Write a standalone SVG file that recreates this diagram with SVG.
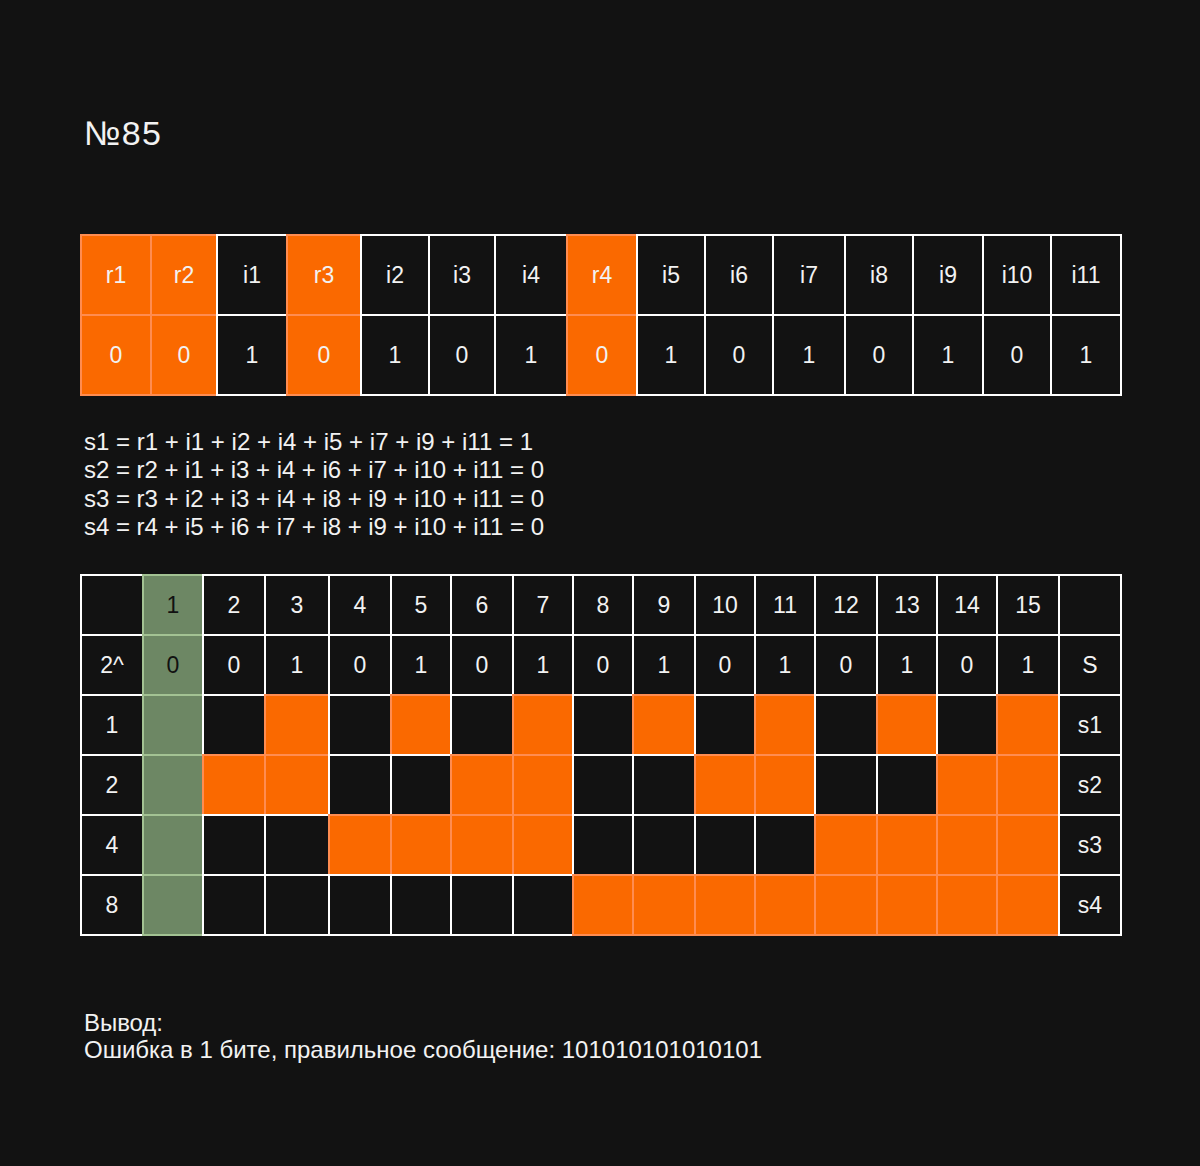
<svg xmlns="http://www.w3.org/2000/svg" width="1200" height="1166" viewBox="0 0 1200 1166">
<style>
.k{fill:#121212;stroke:#ffffff;stroke-width:2}
.o{fill:#FA6900;stroke:#FF8C50;stroke-width:2}
.g{fill:#6D8764;stroke:#A3C293;stroke-width:2}
text{font-family:"Liberation Sans",Arial,sans-serif;font-size:23px;fill:#f2f2f2}
.c{text-anchor:middle}
.d{fill:#111111}
.p{font-size:24px}
</style>
<rect width="1200" height="1166" fill="#121212"/>
<g id="title"><text x="84" y="145" style="font-size:34px" textLength="77" lengthAdjust="spacing">№85</text></g>
<g id="bits-table">
<g id="t-r1"><rect class="o" x="81" y="235" width="70" height="80"/><text class="c" x="116" y="283">r1</text></g>
<g id="t-r2"><rect class="o" x="151" y="235" width="66" height="80"/><text class="c" x="184" y="283">r2</text></g>
<g id="t-i1"><rect class="k" x="217" y="235" width="70" height="80"/><text class="c" x="252" y="283">i1</text></g>
<g id="t-r3"><rect class="o" x="287" y="235" width="74" height="80"/><text class="c" x="324" y="283">r3</text></g>
<g id="t-i2"><rect class="k" x="361" y="235" width="68" height="80"/><text class="c" x="395" y="283">i2</text></g>
<g id="t-i3"><rect class="k" x="429" y="235" width="66" height="80"/><text class="c" x="462" y="283">i3</text></g>
<g id="t-i4"><rect class="k" x="495" y="235" width="72" height="80"/><text class="c" x="531" y="283">i4</text></g>
<g id="t-r4"><rect class="o" x="567" y="235" width="70" height="80"/><text class="c" x="602" y="283">r4</text></g>
<g id="t-i5"><rect class="k" x="637" y="235" width="68" height="80"/><text class="c" x="671" y="283">i5</text></g>
<g id="t-i6"><rect class="k" x="705" y="235" width="68" height="80"/><text class="c" x="739" y="283">i6</text></g>
<g id="t-i7"><rect class="k" x="773" y="235" width="72" height="80"/><text class="c" x="809" y="283">i7</text></g>
<g id="t-i8"><rect class="k" x="845" y="235" width="68" height="80"/><text class="c" x="879" y="283">i8</text></g>
<g id="t-i9"><rect class="k" x="913" y="235" width="70" height="80"/><text class="c" x="948" y="283">i9</text></g>
<g id="t-i10"><rect class="k" x="983" y="235" width="68" height="80"/><text class="c" x="1017" y="283">i10</text></g>
<g id="t-i11"><rect class="k" x="1051" y="235" width="70" height="80"/><text class="c" x="1086" y="283">i11</text></g>
<g id="v-r1"><rect class="o" x="81" y="315" width="70" height="80"/><text class="c" x="116" y="363">0</text></g>
<g id="v-r2"><rect class="o" x="151" y="315" width="66" height="80"/><text class="c" x="184" y="363">0</text></g>
<g id="v-i1"><rect class="k" x="217" y="315" width="70" height="80"/><text class="c" x="252" y="363">1</text></g>
<g id="v-r3"><rect class="o" x="287" y="315" width="74" height="80"/><text class="c" x="324" y="363">0</text></g>
<g id="v-i2"><rect class="k" x="361" y="315" width="68" height="80"/><text class="c" x="395" y="363">1</text></g>
<g id="v-i3"><rect class="k" x="429" y="315" width="66" height="80"/><text class="c" x="462" y="363">0</text></g>
<g id="v-i4"><rect class="k" x="495" y="315" width="72" height="80"/><text class="c" x="531" y="363">1</text></g>
<g id="v-r4"><rect class="o" x="567" y="315" width="70" height="80"/><text class="c" x="602" y="363">0</text></g>
<g id="v-i5"><rect class="k" x="637" y="315" width="68" height="80"/><text class="c" x="671" y="363">1</text></g>
<g id="v-i6"><rect class="k" x="705" y="315" width="68" height="80"/><text class="c" x="739" y="363">0</text></g>
<g id="v-i7"><rect class="k" x="773" y="315" width="72" height="80"/><text class="c" x="809" y="363">1</text></g>
<g id="v-i8"><rect class="k" x="845" y="315" width="68" height="80"/><text class="c" x="879" y="363">0</text></g>
<g id="v-i9"><rect class="k" x="913" y="315" width="70" height="80"/><text class="c" x="948" y="363">1</text></g>
<g id="v-i10"><rect class="k" x="983" y="315" width="68" height="80"/><text class="c" x="1017" y="363">0</text></g>
<g id="v-i11"><rect class="k" x="1051" y="315" width="70" height="80"/><text class="c" x="1086" y="363">1</text></g>
</g>
<g id="equations">
<text class="p" x="84" y="450" textLength="449" lengthAdjust="spacing">s1 = r1 + i1 + i2 + i4 + i5 + i7 + i9 + i11 = 1</text>
<text class="p" x="84" y="478" textLength="460" lengthAdjust="spacing">s2 = r2 + i1 + i3 + i4 + i6 + i7 + i10 + i11 = 0</text>
<text class="p" x="84" y="507" textLength="460" lengthAdjust="spacing">s3 = r3 + i2 + i3 + i4 + i8 + i9 + i10 + i11 = 0</text>
<text class="p" x="84" y="535" textLength="460" lengthAdjust="spacing">s4 = r4 + i5 + i6 + i7 + i8 + i9 + i10 + i11 = 0</text>
</g>
<g id="syndrome-table">
<g id="row-head">
<rect class="k" x="81" y="575" width="62" height="60"/>
<rect class="g" x="143" y="575" width="60" height="60"/><text class="c d" x="173" y="613">1</text>
<rect class="k" x="203" y="575" width="62" height="60"/><text class="c" x="234" y="613">2</text>
<rect class="k" x="265" y="575" width="64" height="60"/><text class="c" x="297" y="613">3</text>
<rect class="k" x="329" y="575" width="62" height="60"/><text class="c" x="360" y="613">4</text>
<rect class="k" x="391" y="575" width="60" height="60"/><text class="c" x="421" y="613">5</text>
<rect class="k" x="451" y="575" width="62" height="60"/><text class="c" x="482" y="613">6</text>
<rect class="k" x="513" y="575" width="60" height="60"/><text class="c" x="543" y="613">7</text>
<rect class="k" x="573" y="575" width="60" height="60"/><text class="c" x="603" y="613">8</text>
<rect class="k" x="633" y="575" width="62" height="60"/><text class="c" x="664" y="613">9</text>
<rect class="k" x="695" y="575" width="60" height="60"/><text class="c" x="725" y="613">10</text>
<rect class="k" x="755" y="575" width="60" height="60"/><text class="c" x="785" y="613">11</text>
<rect class="k" x="815" y="575" width="62" height="60"/><text class="c" x="846" y="613">12</text>
<rect class="k" x="877" y="575" width="60" height="60"/><text class="c" x="907" y="613">13</text>
<rect class="k" x="937" y="575" width="60" height="60"/><text class="c" x="967" y="613">14</text>
<rect class="k" x="997" y="575" width="62" height="60"/><text class="c" x="1028" y="613">15</text>
<rect class="k" x="1059" y="575" width="62" height="60"/>
</g>
<g id="row-bits">
<rect class="k" x="81" y="635" width="62" height="60"/><text class="c" x="112" y="673">2^</text>
<rect class="g" x="143" y="635" width="60" height="60"/><text class="c d" x="173" y="673">0</text>
<rect class="k" x="203" y="635" width="62" height="60"/><text class="c" x="234" y="673">0</text>
<rect class="k" x="265" y="635" width="64" height="60"/><text class="c" x="297" y="673">1</text>
<rect class="k" x="329" y="635" width="62" height="60"/><text class="c" x="360" y="673">0</text>
<rect class="k" x="391" y="635" width="60" height="60"/><text class="c" x="421" y="673">1</text>
<rect class="k" x="451" y="635" width="62" height="60"/><text class="c" x="482" y="673">0</text>
<rect class="k" x="513" y="635" width="60" height="60"/><text class="c" x="543" y="673">1</text>
<rect class="k" x="573" y="635" width="60" height="60"/><text class="c" x="603" y="673">0</text>
<rect class="k" x="633" y="635" width="62" height="60"/><text class="c" x="664" y="673">1</text>
<rect class="k" x="695" y="635" width="60" height="60"/><text class="c" x="725" y="673">0</text>
<rect class="k" x="755" y="635" width="60" height="60"/><text class="c" x="785" y="673">1</text>
<rect class="k" x="815" y="635" width="62" height="60"/><text class="c" x="846" y="673">0</text>
<rect class="k" x="877" y="635" width="60" height="60"/><text class="c" x="907" y="673">1</text>
<rect class="k" x="937" y="635" width="60" height="60"/><text class="c" x="967" y="673">0</text>
<rect class="k" x="997" y="635" width="62" height="60"/><text class="c" x="1028" y="673">1</text>
<rect class="k" x="1059" y="635" width="62" height="60"/><text class="c" x="1090" y="673">S</text>
</g>
<g id="row-s1">
<rect class="k" x="81" y="695" width="62" height="60"/><text class="c" x="112" y="733">1</text>
<rect class="g" x="143" y="695" width="60" height="60"/>
<rect class="k" x="203" y="695" width="62" height="60"/>
<rect class="o" x="265" y="695" width="64" height="60"/>
<rect class="k" x="329" y="695" width="62" height="60"/>
<rect class="o" x="391" y="695" width="60" height="60"/>
<rect class="k" x="451" y="695" width="62" height="60"/>
<rect class="o" x="513" y="695" width="60" height="60"/>
<rect class="k" x="573" y="695" width="60" height="60"/>
<rect class="o" x="633" y="695" width="62" height="60"/>
<rect class="k" x="695" y="695" width="60" height="60"/>
<rect class="o" x="755" y="695" width="60" height="60"/>
<rect class="k" x="815" y="695" width="62" height="60"/>
<rect class="o" x="877" y="695" width="60" height="60"/>
<rect class="k" x="937" y="695" width="60" height="60"/>
<rect class="o" x="997" y="695" width="62" height="60"/>
<rect class="k" x="1059" y="695" width="62" height="60"/><text class="c" x="1090" y="733">s1</text>
</g>
<g id="row-s2">
<rect class="k" x="81" y="755" width="62" height="60"/><text class="c" x="112" y="793">2</text>
<rect class="g" x="143" y="755" width="60" height="60"/>
<rect class="o" x="203" y="755" width="62" height="60"/>
<rect class="o" x="265" y="755" width="64" height="60"/>
<rect class="k" x="329" y="755" width="62" height="60"/>
<rect class="k" x="391" y="755" width="60" height="60"/>
<rect class="o" x="451" y="755" width="62" height="60"/>
<rect class="o" x="513" y="755" width="60" height="60"/>
<rect class="k" x="573" y="755" width="60" height="60"/>
<rect class="k" x="633" y="755" width="62" height="60"/>
<rect class="o" x="695" y="755" width="60" height="60"/>
<rect class="o" x="755" y="755" width="60" height="60"/>
<rect class="k" x="815" y="755" width="62" height="60"/>
<rect class="k" x="877" y="755" width="60" height="60"/>
<rect class="o" x="937" y="755" width="60" height="60"/>
<rect class="o" x="997" y="755" width="62" height="60"/>
<rect class="k" x="1059" y="755" width="62" height="60"/><text class="c" x="1090" y="793">s2</text>
</g>
<g id="row-s3">
<rect class="k" x="81" y="815" width="62" height="60"/><text class="c" x="112" y="853">4</text>
<rect class="g" x="143" y="815" width="60" height="60"/>
<rect class="k" x="203" y="815" width="62" height="60"/>
<rect class="k" x="265" y="815" width="64" height="60"/>
<rect class="o" x="329" y="815" width="62" height="60"/>
<rect class="o" x="391" y="815" width="60" height="60"/>
<rect class="o" x="451" y="815" width="62" height="60"/>
<rect class="o" x="513" y="815" width="60" height="60"/>
<rect class="k" x="573" y="815" width="60" height="60"/>
<rect class="k" x="633" y="815" width="62" height="60"/>
<rect class="k" x="695" y="815" width="60" height="60"/>
<rect class="k" x="755" y="815" width="60" height="60"/>
<rect class="o" x="815" y="815" width="62" height="60"/>
<rect class="o" x="877" y="815" width="60" height="60"/>
<rect class="o" x="937" y="815" width="60" height="60"/>
<rect class="o" x="997" y="815" width="62" height="60"/>
<rect class="k" x="1059" y="815" width="62" height="60"/><text class="c" x="1090" y="853">s3</text>
</g>
<g id="row-s4">
<rect class="k" x="81" y="875" width="62" height="60"/><text class="c" x="112" y="913">8</text>
<rect class="g" x="143" y="875" width="60" height="60"/>
<rect class="k" x="203" y="875" width="62" height="60"/>
<rect class="k" x="265" y="875" width="64" height="60"/>
<rect class="k" x="329" y="875" width="62" height="60"/>
<rect class="k" x="391" y="875" width="60" height="60"/>
<rect class="k" x="451" y="875" width="62" height="60"/>
<rect class="k" x="513" y="875" width="60" height="60"/>
<rect class="o" x="573" y="875" width="60" height="60"/>
<rect class="o" x="633" y="875" width="62" height="60"/>
<rect class="o" x="695" y="875" width="60" height="60"/>
<rect class="o" x="755" y="875" width="60" height="60"/>
<rect class="o" x="815" y="875" width="62" height="60"/>
<rect class="o" x="877" y="875" width="60" height="60"/>
<rect class="o" x="937" y="875" width="60" height="60"/>
<rect class="o" x="997" y="875" width="62" height="60"/>
<rect class="k" x="1059" y="875" width="62" height="60"/><text class="c" x="1090" y="913">s4</text>
</g>
</g>
<g id="conclusion">
<text class="p" x="84" y="1031" textLength="79" lengthAdjust="spacing">Вывод:</text>
<text class="p" x="84" y="1058" textLength="678" lengthAdjust="spacing">Ошибка в 1 бите, правильное сообщение: 101010101010101</text>
</g>
</svg>
